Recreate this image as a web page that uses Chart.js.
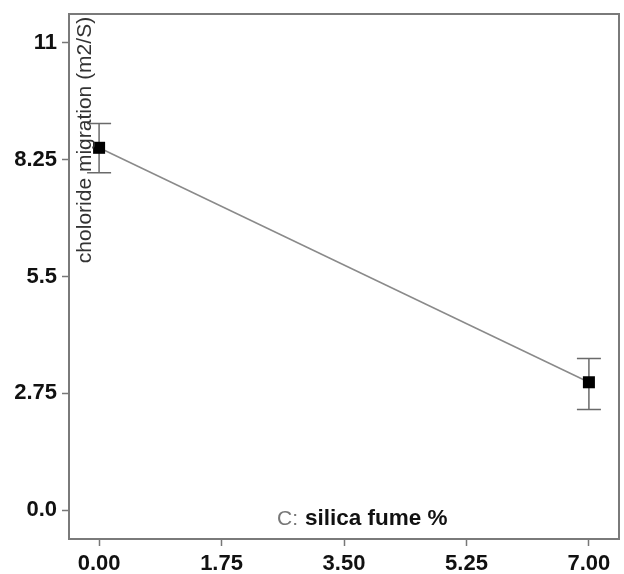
<!DOCTYPE html>
<html>
<head>
<meta charset="utf-8">
<script src="https://cdn.jsdelivr.net/npm/chart.js@4"></script>
<style>
  body { margin: 0; background: #fff; }
  canvas { display: block; }
</style>
</head>
<body>
<canvas id="chart" width="624" height="574"></canvas>
<script>
// data
const xValues = [0, 7];
const yValues = [8.53, 3.01];
const yErrLow = [7.94, 2.37];
const yErrHigh = [9.10, 3.57];

const xTicks = [0, 1.75, 3.5, 5.25, 7];
const xTickLabels = ["0.00", "1.75", "3.50", "5.25", "7.00"];
const yTicks = [0, 2.75, 5.5, 8.25, 11];
const yTickLabels = ["0.0", "2.75", "5.5", "8.25", "11"];

const yTitle = "choloride migration (m2/S)";
const xTitleLetter = "C:";
const xTitleText = "silica fume %";

const FONT = "'Liberation Sans', Arial, sans-serif";

// error bars, drawn under the markers
const errorBars = {
    id: "errorBars",
    beforeDatasetsDraw(chart) {
        const { ctx, scales: { x, y } } = chart;
        ctx.save();
        ctx.strokeStyle = "#6a6a6a";
        ctx.lineWidth = 1.5;
        xValues.forEach((xv, i) => {
            const px = x.getPixelForValue(xv);
            const top = y.getPixelForValue(yErrHigh[i]);
            const bot = y.getPixelForValue(yErrLow[i]);
            ctx.beginPath();
            ctx.moveTo(px, top);
            ctx.lineTo(px, bot);
            ctx.moveTo(px - 12, top);
            ctx.lineTo(px + 12, top);
            ctx.moveTo(px - 12, bot);
            ctx.lineTo(px + 12, bot);
            ctx.stroke();
        });
        ctx.restore();
    },
};

// frame and the titles that sit inside the plot
const frameAndTitles = {
    id: "frameAndTitles",
    afterDraw(chart) {
        const { ctx, chartArea: a } = chart;
        ctx.save();
        ctx.strokeStyle = "#7a7a7a";
        ctx.lineWidth = 2;
        ctx.strokeRect(a.left, a.top, a.right - a.left, a.bottom - a.top);

        ctx.translate(a.left + 16, a.top + 126);
        ctx.rotate(-Math.PI / 2);
        ctx.font = "21px " + FONT;
        ctx.fillStyle = "#333";
        ctx.textAlign = "center";
        ctx.textBaseline = "middle";
        ctx.fillText(yTitle, 0, 0);
        ctx.restore();

        ctx.save();
        ctx.textBaseline = "alphabetic";
        ctx.textAlign = "left";
        const bx = a.left + 208;
        const by = a.bottom - 14;
        ctx.font = "21px " + FONT;
        ctx.fillStyle = "#777";
        ctx.fillText(xTitleLetter, bx, by);
        ctx.font = "bold 22.5px " + FONT;
        ctx.fillStyle = "#111";
        ctx.fillText(xTitleText, bx + 28, by);
        ctx.restore();
    },
};

const ctx = document.getElementById("chart").getContext("2d");
new Chart(ctx, {
    type: "scatter",
    data: {
        datasets: [
            {
                data: xValues.map((xv, i) => ({ x: xv, y: yValues[i] })),
                showLine: true,
                borderColor: "#8a8a8a",
                borderWidth: 1.5,
                pointStyle: "rect",
                pointRadius: 8.5,
                pointBackgroundColor: "#000",
                pointBorderColor: "#000",
                pointBorderWidth: 0,
            },
        ],
    },
    options: {
        responsive: false,
        animation: false,
        layout: { autoPadding: false, padding: { top: 14, right: 5, left: 0, bottom: 0 } },
        plugins: { legend: { display: false }, tooltip: { enabled: false } },
        scales: {
            x: {
                type: "linear",
                min: -0.43,
                max: 7.43,
                afterFit: (s) => { s.height = 35; s.paddingLeft = 0; s.paddingRight = 0; },
                afterBuildTicks: (s) => { s.ticks = xTicks.map((v) => ({ value: v })); },
                border: { display: false },
                grid: { drawOnChartArea: false, tickLength: 7, tickColor: "#777", tickWidth: 1.5 },
                ticks: {
                    padding: 5,
                    color: "#111",
                    font: { family: FONT, size: 22, weight: "bold" },
                    callback: (v) => xTickLabels[xTicks.indexOf(v)],
                },
            },
            y: {
                type: "linear",
                min: -0.68,
                max: 11.68,
                afterFit: (s) => { s.width = 69; s.paddingTop = 0; s.paddingBottom = 0; },
                afterBuildTicks: (s) => { s.ticks = yTicks.map((v) => ({ value: v })); },
                border: { display: false },
                grid: { drawOnChartArea: false, tickLength: 7, tickColor: "#777", tickWidth: 1.5 },
                ticks: {
                    padding: 5,
                    color: "#111",
                    font: { family: FONT, size: 22, weight: "bold" },
                    callback: (v) => yTickLabels[yTicks.indexOf(v)],
                },
            },
        },
    },
    plugins: [errorBars, frameAndTitles],
});
</script>
</body>
</html>
